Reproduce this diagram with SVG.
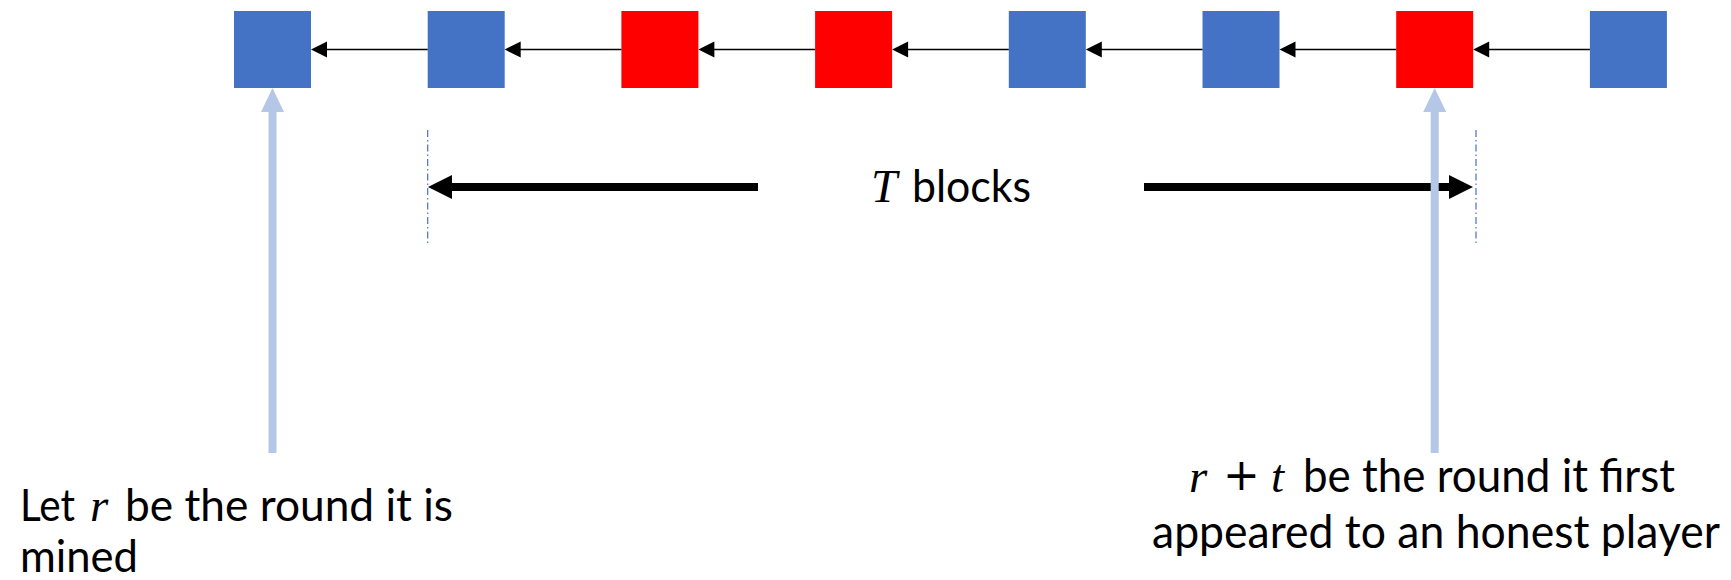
<svg xmlns="http://www.w3.org/2000/svg" width="1731" height="580" viewBox="0 0 1731 580">
<style>
.blue{fill:#4472C4}
.red{fill:#FF0000}
.link{stroke:#000;stroke-width:1.6;fill:none}
.head{fill:#000}
.hint{fill:#B4C7E7}
.dash{stroke:#4472C4;stroke-width:1.2;stroke-dasharray:7 3 1.5 3;fill:none}
.big{stroke:#000;stroke-width:8;fill:none}
.lbl{font-family:Lato,"Open Sans","Liberation Sans",sans-serif;font-size:45px;fill:#000}
.lbr{font-family:Lato,"Open Sans","Liberation Sans",sans-serif;font-size:47px;fill:#000}
.m{font-family:"Liberation Serif","DejaVu Serif",serif;font-style:italic;font-size:47px;fill:#000}
.mu{font-family:"DejaVu Sans","Liberation Sans",sans-serif;font-size:44px;fill:#000}
</style>
<rect width="1731" height="580" fill="#fff"/>
<g id="b1"><rect class="blue" x="234" y="11" width="77" height="77"/></g>
<g id="b2"><rect class="blue" x="427.7" y="11" width="77" height="77"/></g>
<g id="b3"><rect class="red" x="621.4" y="11" width="77" height="77"/></g>
<g id="b4"><rect class="red" x="815.1" y="11" width="77" height="77"/></g>
<g id="b5"><rect class="blue" x="1008.8" y="11" width="77" height="77"/></g>
<g id="b6"><rect class="blue" x="1202.5" y="11" width="77" height="77"/></g>
<g id="b7"><rect class="red" x="1396.2" y="11" width="77" height="77"/></g>
<g id="b8"><rect class="blue" x="1589.9" y="11" width="77" height="77"/></g>
<g id="connectors">
<line class="link" x1="427.7" y1="49.5" x2="325" y2="49.5"/><polygon class="head" points="311,49.5 327,41.5 327,57.5"/>
<line class="link" x1="621.4" y1="49.5" x2="518.7" y2="49.5"/><polygon class="head" points="504.7,49.5 520.7,41.5 520.7,57.5"/>
<line class="link" x1="815.1" y1="49.5" x2="712.4" y2="49.5"/><polygon class="head" points="698.4,49.5 714.4,41.5 714.4,57.5"/>
<line class="link" x1="1008.8" y1="49.5" x2="906.1" y2="49.5"/><polygon class="head" points="892.1,49.5 908.1,41.5 908.1,57.5"/>
<line class="link" x1="1202.5" y1="49.5" x2="1099.8" y2="49.5"/><polygon class="head" points="1085.8,49.5 1101.8,41.5 1101.8,57.5"/>
<line class="link" x1="1396.2" y1="49.5" x2="1293.5" y2="49.5"/><polygon class="head" points="1279.5,49.5 1295.5,41.5 1295.5,57.5"/>
<line class="link" x1="1589.9" y1="49.5" x2="1487.2" y2="49.5"/><polygon class="head" points="1473.2,49.5 1489.2,41.5 1489.2,57.5"/>
</g>
<g id="span">
<line class="dash" x1="427.7" y1="130" x2="427.7" y2="243"/>
<line class="dash" x1="1476" y1="130" x2="1476" y2="243"/>
<line class="big" x1="758" y1="187" x2="450" y2="187"/><polygon class="head" points="428,187 452,175 452,199"/>
<line class="big" x1="1144" y1="187" x2="1451" y2="187"/><polygon class="head" points="1473,187 1449,175 1449,199"/>
<text class="m" x="871" y="202">T</text>
<text class="lbl" x="912" y="202" textLength="119" lengthAdjust="spacingAndGlyphs">blocks</text>
</g>
<g id="pointer-left">
<rect class="hint" x="268.5" y="111" width="8" height="342"/>
<polygon class="hint" points="272.5,88 284,112 261,112"/>
</g>
<g id="pointer-right">
<rect class="hint" x="1430.7" y="111" width="8" height="342"/>
<polygon class="hint" points="1434.7,88 1446.2,112 1423.2,112"/>
</g>
<g id="label-left">
<text class="lbl" x="20" y="521" textLength="55" lengthAdjust="spacingAndGlyphs">Let</text>
<text class="m" x="90" y="521">r</text>
<text class="lbl" x="125" y="521" textLength="328" lengthAdjust="spacingAndGlyphs">be the round it is</text>
<text class="lbl" x="20" y="572" textLength="118" lengthAdjust="spacingAndGlyphs">mined</text>
</g>
<g id="label-right">
<text class="m" x="1189" y="492">r</text>
<text class="mu" x="1223" y="490">+</text>
<text class="m" x="1271" y="492">t</text>
<text class="lbr" x="1303" y="492" textLength="372" lengthAdjust="spacingAndGlyphs">be the round it first</text>
<text class="lbr" x="1152" y="548" textLength="568" lengthAdjust="spacingAndGlyphs">appeared to an honest player</text>
</g>
</svg>
